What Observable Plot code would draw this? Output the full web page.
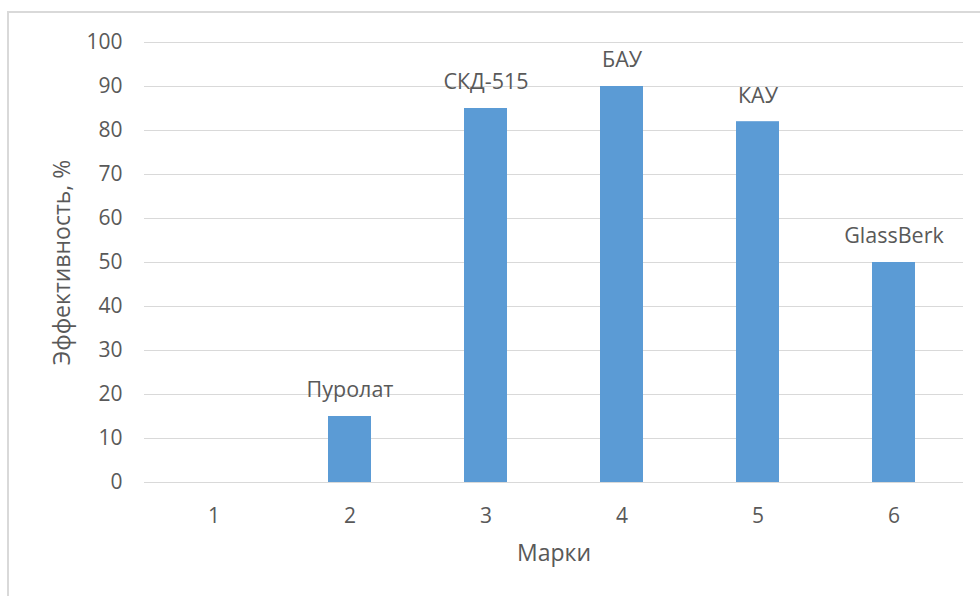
<!DOCTYPE html>
<html>
<head>
<meta charset="utf-8">
<script src="https://cdn.jsdelivr.net/npm/d3@7"></script>
<script src="https://cdn.jsdelivr.net/npm/@observablehq/plot@0.6"></script>
<style>
  html, body { margin: 0; padding: 0; background: #fff; overflow: hidden; }
  #wrap { position: relative; width: 980px; height: 596px; overflow: hidden; }
  #border { position: absolute; left: 7px; top: 11px; width: 1000px; height: 1000px; border: 2px solid #d9d9d9; box-sizing: border-box; }
  #chart { position: absolute; left: 0; top: 0; }
</style>
</head>
<body>
<div id="wrap"><div id="border"></div><div id="chart"></div></div>
<script>
const categories = ["1", "2", "3", "4", "5", "6"];
const values = [0, 15, 85, 90, 82, 50];
const labels = ["", "Пуролат", "СКД-515", "БАУ", "КАУ", "GlassBerk"];
const yTicks = [0, 10, 20, 30, 40, 50, 60, 70, 80, 90, 100];
const yTitle = "Эффективность, %";
const xTitle = "Марки";

const data = categories.map((c, i) => ({cat: c, value: values[i], label: labels[i]}));
const FONT = "'Open Sans', sans-serif";
const GRAY = "#595959";

const chart = Plot.plot({
  width: 980,
  height: 596,
  marginLeft: 144,
  marginRight: 17,
  marginTop: 42,
  marginBottom: 114,
  style: {fontFamily: FONT, fontSize: "21px", color: GRAY, background: "transparent"},
  x: {domain: categories, paddingInner: 0.685, paddingOuter: 0.3425, label: null},
  y: {domain: [0, 100], label: null},
  marks: [
    Plot.gridY(yTicks, {stroke: "#d9d9d9", strokeOpacity: 1, strokeWidth: 1}),
    Plot.barY(data.filter(d => d.value > 0), {x: "cat", y: "value", fill: "#5b9bd5"}),
    Plot.text(data.filter(d => d.label), {x: "cat", y: "value", text: "label", dy: -26, fill: GRAY, fontSize: 21.5, lineAnchor: "middle"}),
    Plot.axisY(yTicks, {tickSize: 0, tickPadding: 22, fill: GRAY, fontSize: 21, label: null}),
    Plot.axisX({tickSize: 0, tickPadding: 26, fill: GRAY, fontSize: 21, label: null}),
    Plot.text([yTitle], {frameAnchor: "left", dx: -82, rotate: -90, textAnchor: "middle", lineAnchor: "middle", fill: GRAY, fontSize: 23, text: d => d}),
    Plot.text([xTitle], {frameAnchor: "bottom", dy: 71, textAnchor: "middle", lineAnchor: "middle", fill: GRAY, fontSize: 23, text: d => d})
  ]
});
document.getElementById("chart").appendChild(chart);
</script>
</body>
</html>
